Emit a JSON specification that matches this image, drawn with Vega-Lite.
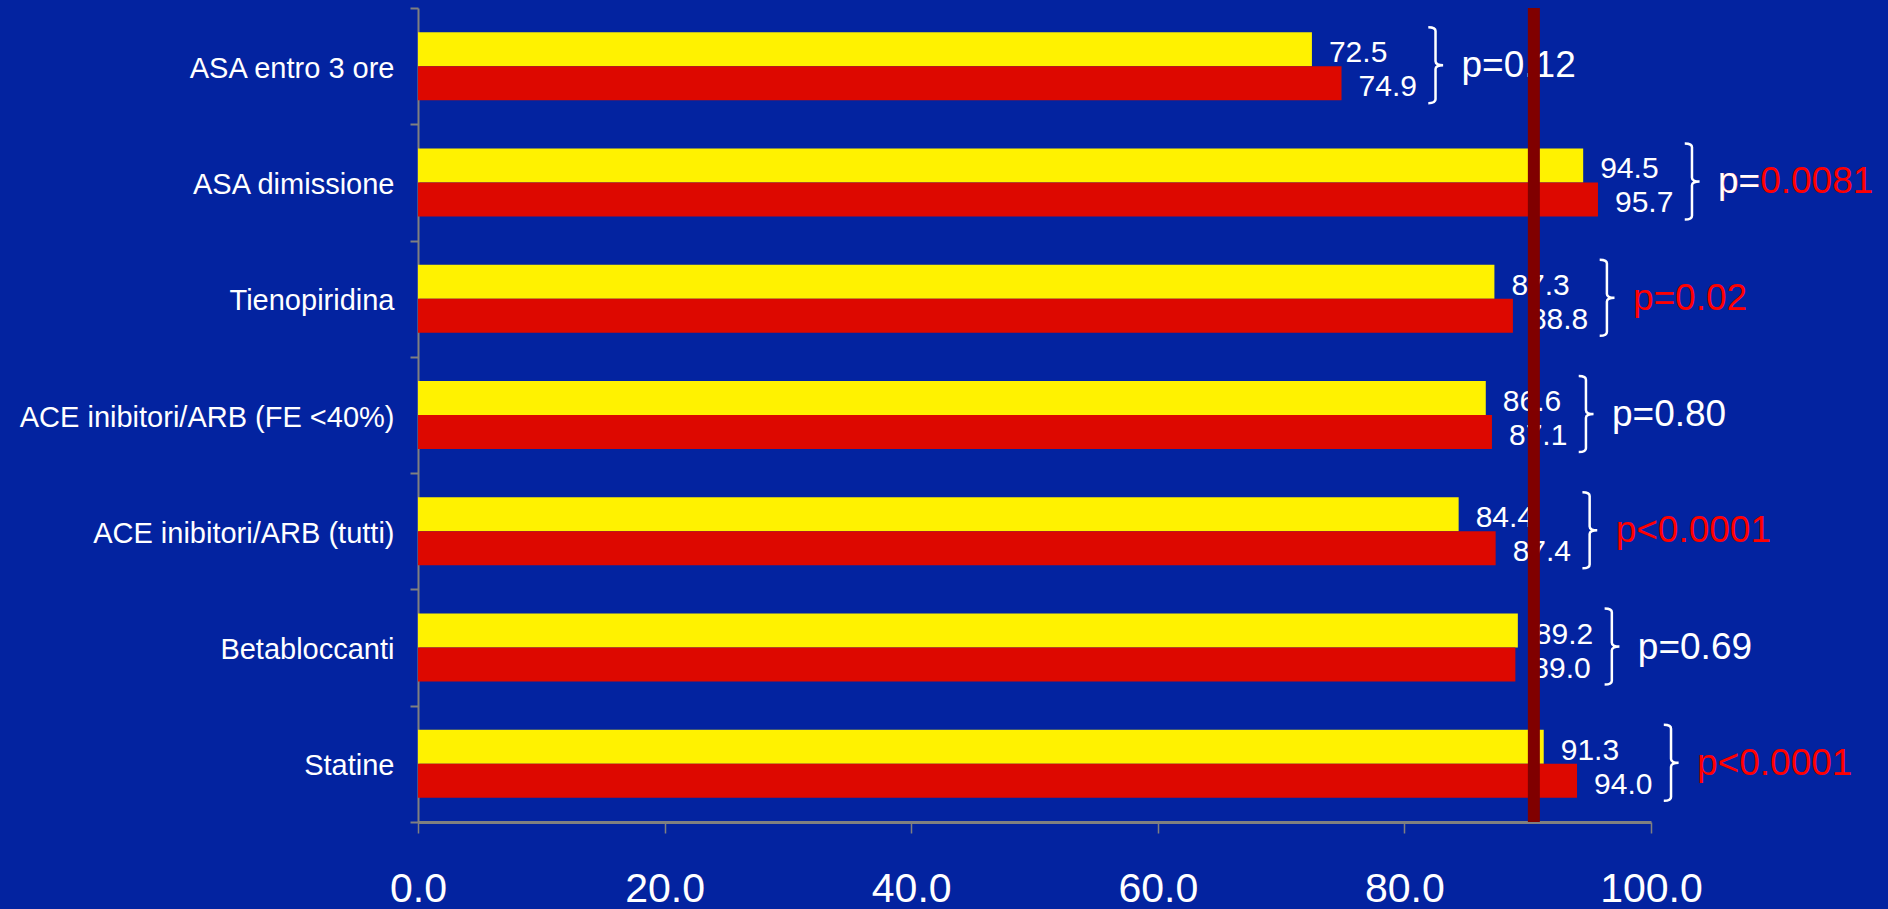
{
  "$schema": "https://vega.github.io/schema/vega-lite/v6.json",
  "width": 1233,
  "height": 814,
  "autosize": {"type": "none"},
  "padding": {"left": 418, "top": 8, "right": 237, "bottom": 87},
  "background": "#0323A0",
  "config": {"view": {"stroke": null}, "font": "Liberation Sans"},
  "datasets": {
    "valori": [
      {"categoria": "ASA entro 3 ore\u00a0", "serie": "Serie 1", "valore": 72.5},
      {"categoria": "ASA entro 3 ore\u00a0", "serie": "Serie 2", "valore": 74.9},
      {"categoria": "ASA dimissione", "serie": "Serie 1", "valore": 94.5},
      {"categoria": "ASA dimissione", "serie": "Serie 2", "valore": 95.7},
      {"categoria": "Tienopiridina", "serie": "Serie 1", "valore": 87.3},
      {"categoria": "Tienopiridina", "serie": "Serie 2", "valore": 88.8},
      {"categoria": "ACE inibitori/ARB (FE <40%)", "serie": "Serie 1", "valore": 86.6},
      {"categoria": "ACE inibitori/ARB (FE <40%)", "serie": "Serie 2", "valore": 87.1},
      {"categoria": "ACE inibitori/ARB (tutti)", "serie": "Serie 1", "valore": 84.4},
      {"categoria": "ACE inibitori/ARB (tutti)", "serie": "Serie 2", "valore": 87.4},
      {"categoria": "Betabloccanti", "serie": "Serie 1", "valore": 89.2},
      {"categoria": "Betabloccanti", "serie": "Serie 2", "valore": 89.0},
      {"categoria": "Statine", "serie": "Serie 1", "valore": 91.3},
      {"categoria": "Statine", "serie": "Serie 2", "valore": 94.0}
    ],
    "pvalori": [
      {"categoria": "ASA entro 3 ore\u00a0", "p": "p=0.12", "evidenza": "nessuna"},
      {"categoria": "ASA dimissione", "p": "p=0.0081", "evidenza": "solo valore"},
      {"categoria": "Tienopiridina", "p": "p=0.02", "evidenza": "tutto"},
      {"categoria": "ACE inibitori/ARB (FE <40%)", "p": "p=0.80", "evidenza": "nessuna"},
      {"categoria": "ACE inibitori/ARB (tutti)", "p": "p<0.0001", "evidenza": "tutto"},
      {"categoria": "Betabloccanti", "p": "p=0.69", "evidenza": "nessuna"},
      {"categoria": "Statine", "p": "p<0.0001", "evidenza": "tutto"}
    ]
  },
  "data": {"name": "valori"},
  "layer": [
    {
      "mark": {"type": "bar"},
      "encoding": {
        "y": {
          "field": "categoria", "type": "nominal",
          "sort": ["ASA entro 3 ore\u00a0", "ASA dimissione", "Tienopiridina", "ACE inibitori/ARB (FE <40%)", "ACE inibitori/ARB (tutti)", "Betabloccanti", "Statine"],
          "scale": {"paddingInner": 0, "paddingOuter": 0},
          "axis": {
            "title": null, "labelColor": "white", "labelFontSize": 29, "labelPadding": 16, "labelOffset": 2,
            "tickSize": 8, "tickColor": "#808080", "tickWidth": 2, "domainColor": "#808080",
            "domainWidth": 2, "tickBand": "extent", "labelLimit": 0, "labelBaseline": "middle"
          }
        },
        "x": {
          "field": "valore", "type": "quantitative",
          "scale": {"domain": [0, 100], "nice": false},
          "axis": {
            "title": null, "values": [0, 20, 40, 60, 80, 100], "format": ".1f",
            "labelColor": "white", "labelFontSize": 41, "labelPadding": 36, "tickSize": 11,
            "tickColor": "#808080", "tickWidth": 1.5, "domainColor": "#808080", "domainWidth": 3,
            "grid": false, "labelFlush": false
          }
        },
        "yOffset": {"field": "serie", "type": "nominal", "scale": {"paddingInner": 0, "paddingOuter": 0.71}},
        "color": {"field": "serie", "type": "nominal", "scale": {"domain": ["Serie 1", "Serie 2"], "range": ["#FFF200", "#DD0800"]}, "legend": null}
      }
    },
    {
      "mark": {"type": "text", "align": "left", "baseline": "middle", "dx": 17, "dy": 4, "fontSize": 30, "color": "white"},
      "encoding": {
        "y": {"field": "categoria", "type": "nominal", "sort": ["ASA entro 3 ore\u00a0", "ASA dimissione", "Tienopiridina", "ACE inibitori/ARB (FE <40%)", "ACE inibitori/ARB (tutti)", "Betabloccanti", "Statine"]},
        "x": {"field": "valore", "type": "quantitative"},
        "yOffset": {"field": "serie", "type": "nominal"},
        "text": {"field": "valore", "type": "quantitative", "format": ".1f"}
      }
    },
    {
      "transform": [{"aggregate": [{"op": "max", "field": "valore", "as": "massimo"}], "groupby": ["categoria"]}],
      "mark": {
        "type": "point", "shape": "M -0.19 -1 Q 0 -1 0 -0.9 L 0 -0.1 Q 0 0 0.2 0 Q 0 0 0 0.1 L 0 0.9 Q 0 1 -0.19 1",
        "size": 5776, "filled": false, "stroke": "white", "strokeWidth": 2.5, "opacity": 1, "xOffset": 94, "yOffset": -1
      },
      "encoding": {
        "y": {"field": "categoria", "type": "nominal", "sort": ["ASA entro 3 ore\u00a0", "ASA dimissione", "Tienopiridina", "ACE inibitori/ARB (FE <40%)", "ACE inibitori/ARB (tutti)", "Betabloccanti", "Statine"]},
        "x": {"field": "massimo", "type": "quantitative"}
      }
    },
    {
      "transform": [
        {"aggregate": [{"op": "max", "field": "valore", "as": "massimo"}], "groupby": ["categoria"]},
        {"lookup": "categoria", "from": {"data": {"name": "pvalori"}, "key": "categoria", "fields": ["p", "evidenza"]}}
      ],
      "mark": {"type": "text", "align": "left", "baseline": "middle", "fontSize": 37, "xOffset": 120},
      "encoding": {
        "y": {"field": "categoria", "type": "nominal", "sort": ["ASA entro 3 ore\u00a0", "ASA dimissione", "Tienopiridina", "ACE inibitori/ARB (FE <40%)", "ACE inibitori/ARB (tutti)", "Betabloccanti", "Statine"]},
        "x": {"field": "massimo", "type": "quantitative"},
        "text": {"field": "p", "type": "nominal"},
        "color": {"condition": {"test": "datum.evidenza !== 'nessuna'", "value": "#FF0000"}, "value": "white"}
      }
    },
    {
      "transform": [
        {"aggregate": [{"op": "max", "field": "valore", "as": "massimo"}], "groupby": ["categoria"]},
        {"lookup": "categoria", "from": {"data": {"name": "pvalori"}, "key": "categoria", "fields": ["p", "evidenza"]}},
        {"filter": "datum.evidenza === 'solo valore'"}
      ],
      "mark": {"type": "text", "align": "left", "baseline": "middle", "fontSize": 37, "xOffset": 120, "color": "white"},
      "encoding": {
        "y": {"field": "categoria", "type": "nominal", "sort": ["ASA entro 3 ore\u00a0", "ASA dimissione", "Tienopiridina", "ACE inibitori/ARB (FE <40%)", "ACE inibitori/ARB (tutti)", "Betabloccanti", "Statine"]},
        "x": {"field": "massimo", "type": "quantitative"},
        "text": {"value": "p="}
      }
    },
    {
      "data": {"values": [{"obiettivo": 90.5}]},
      "mark": {"type": "rule", "color": "#800000", "strokeWidth": 12},
      "encoding": {
        "x": {"field": "obiettivo", "type": "quantitative"}
      }
    }
  ]
}
